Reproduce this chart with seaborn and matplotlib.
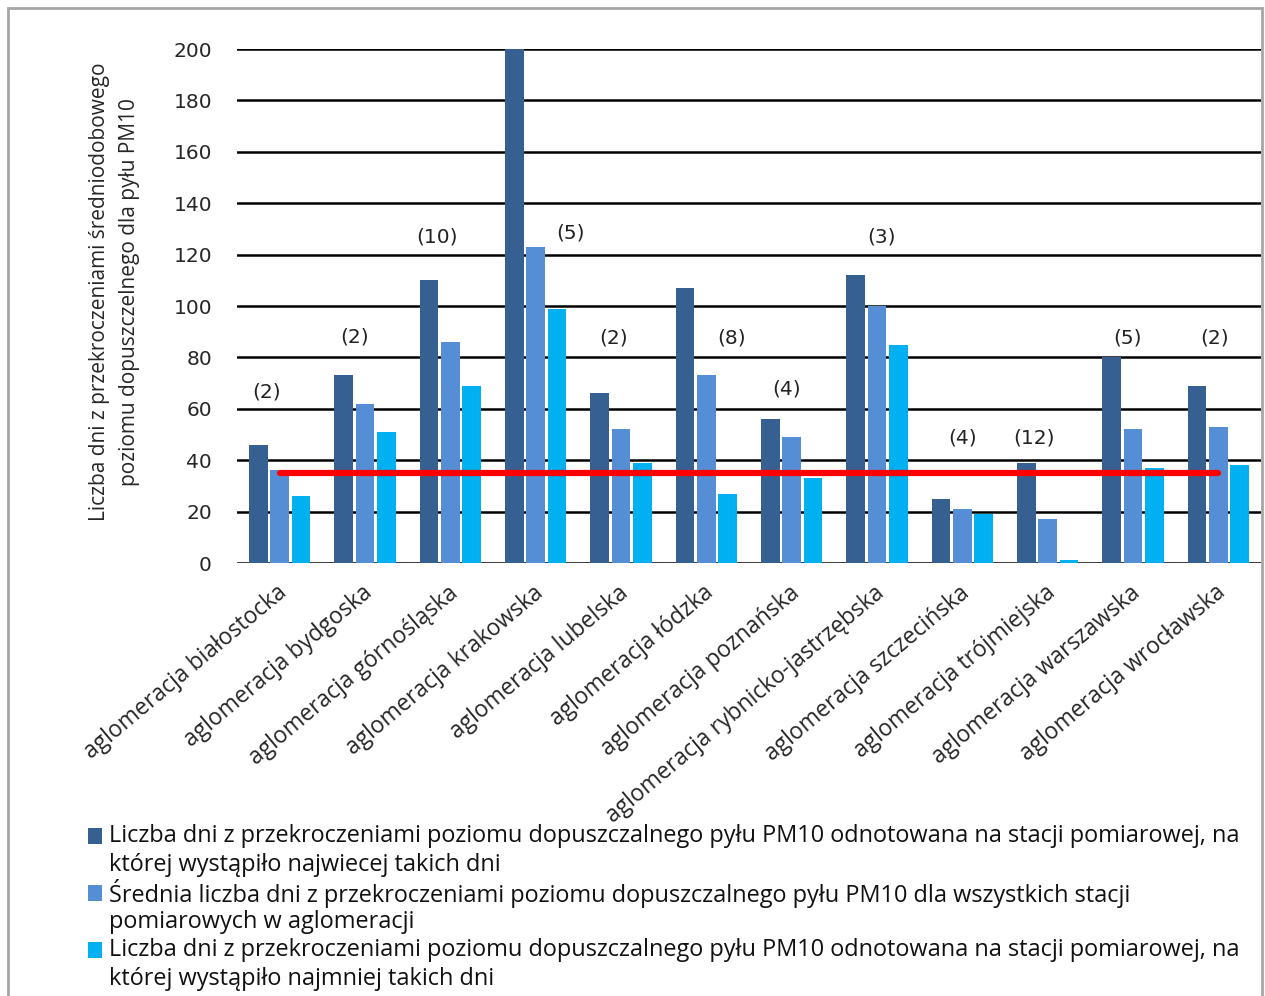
import matplotlib
matplotlib.use("Agg")
import matplotlib.pyplot as plt
import matplotlib.transforms as mtransforms
import seaborn as sns
import pandas as pd
import numpy as np
from matplotlib.patches import Rectangle

categories = ["aglomeracja białostocka", "aglomeracja bydgoska", "aglomeracja górnośląska",
              "aglomeracja krakowska", "aglomeracja lubelska", "aglomeracja łódzka",
              "aglomeracja poznańska", "aglomeracja rybnicko-jastrzębska", "aglomeracja szczecińska",
              "aglomeracja trójmiejska", "aglomeracja warszawska", "aglomeracja wrocławska"]
max_days = [46, 73, 110, 200, 66, 107, 56, 112, 25, 39, 80, 69]
mean_days = [36, 62, 86, 123, 52, 73, 49, 100, 21, 17, 52, 53]
min_days = [26, 51, 69, 99, 39, 27, 33, 85, 19, 1, 37, 38]
station_counts = ["(2)", "(2)", "(10)", "(5)", "(2)", "(8)", "(4)", "(3)", "(4)", "(12)", "(5)", "(2)"]
limit_value = 35
series_names = [
    "Liczba dni z przekroczeniami poziomu dopuszczalnego pyłu PM10 odnotowana na stacji pomiarowej, na\nktórej wystąpiło najwiecej takich dni",
    "Średnia liczba dni z przekroczeniami poziomu dopuszczalnego pyłu PM10 dla wszystkich stacji\npomiarowych w aglomeracji",
    "Liczba dni z przekroczeniami poziomu dopuszczalnego pyłu PM10 odnotowana na stacji pomiarowej, na\nktórej wystąpiło najmniej takich dni",
]
y_label = "Liczba dni z przekroczeniami średniodobowego\npoziomu dopuszczelnego dla pyłu PM10"

# layout for count annotations (offset in category units, y in data units)
ann_dx = [-0.15, -0.12, -0.16, 0.41, -0.09, 0.30, -0.06, 0.05, 0.0, -0.16, -0.06, -0.04]
ann_y = [66.5, 88, 127, 128.5, 87.5, 87.5, 67.7, 127, 48.6, 48.6, 87.5, 87.5]

colors = ["#376092", "#558ED5", "#00B0F0"]

df = pd.DataFrame({
    "cat": categories * 3,
    "val": max_days + mean_days + min_days,
    "series": [series_names[0]] * 12 + [series_names[1]] * 12 + [series_names[2]] * 12,
})

sns.set_theme(style="white")
plt.rcParams["font.family"] = ["DejaVu Sans"]

W, H = 1265, 996
fig = plt.figure(figsize=(W / 100, H / 100), dpi=100)
ax = fig.add_axes([237 / W, 1 - 563 / H, (1261 - 237) / W, (563 - 49) / H])

sns.barplot(data=df, x="cat", y="val", hue="series", order=categories,
            hue_order=series_names, palette=colors, width=0.75, gap=0.12,
            saturation=1, ax=ax, legend=False, errorbar=None, edgecolor="none")

ax.set_ylim(0, 200)
ax.set_xlim(-0.5, 11.5)
ax.set_yticks(np.arange(0, 201, 20))
ax.yaxis.grid(True, color="black", linewidth=1.8)
ax.set_axisbelow(True)
for s in ["left", "right", "top", "bottom"]:
    ax.spines[s].set_visible(False)
ax.tick_params(axis="y", labelsize=14.5, pad=18, length=0)
ax.tick_params(axis="x", length=0, pad=2)
ax.set_xlabel("")
ax.set_ylabel(y_label, fontsize=15, family=["Open Sans", "DejaVu Sans"], labelpad=24,
              linespacing=1.55)
ax.yaxis.label.set_y(0.527)
ax.set_xticks(range(len(categories)))
ax.set_xticklabels(categories, rotation=40, ha="right", rotation_mode="anchor",
                   fontsize=16.5, family=["Open Sans", "DejaVu Sans"])
offset = mtransforms.ScaledTranslation(-3 / 100, -15 / 100, fig.dpi_scale_trans)
for lab in ax.get_xticklabels():
    lab.set_transform(lab.get_transform() + offset)

# limit line
ax.plot([0, len(categories) - 1], [limit_value, limit_value], color="#FF0000", linewidth=4.5,
        solid_capstyle="round", zorder=5)

for i, t in enumerate(station_counts):
    ax.text(i + ann_dx[i], ann_y[i], t, ha="center", va="center", fontsize=14.5, color="#222222")

# legend drawn manually so the square sits beside the first line of each entry
line_step = 28.5
y0 = 836
for k, (name, c) in enumerate(zip(series_names, colors)):
    yc = y0 + k * 2 * line_step
    fig.patches.append(Rectangle((88 / W, 1 - (yc + 8) / H), 14 / W, 16 / H,
                                 transform=fig.transFigure, facecolor=c, edgecolor="none"))
    for j, line in enumerate(name.split("\n")):
        fig.text(109 / W, 1 - (yc + j * line_step) / H, line, ha="left", va="center",
                 fontsize=16.9, family=["Open Sans", "DejaVu Sans"], color="#111111")

# outer frame
fig.patches.append(Rectangle((8 / W, -0.1), (1262 - 8) / W, 1.1 - 8 / H,
                             transform=fig.transFigure, fill=False, edgecolor="#A6A6A6",
                             linewidth=2))

fig.savefig("out.png", dpi=100)
